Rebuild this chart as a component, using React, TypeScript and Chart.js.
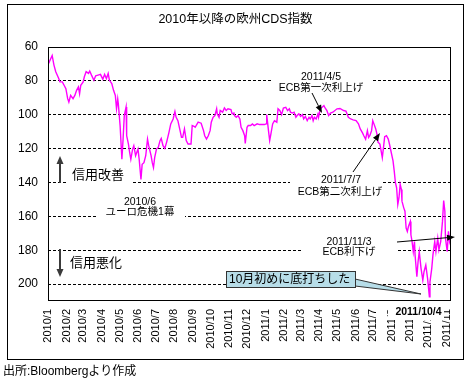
import React, { useEffect, useRef } from 'react';
import { Chart, registerables } from 'chart.js';

Chart.register(...registerables);

const chartTitle = '2010年以降の欧州CDS指数';
const sourceNote = '出所:Bloombergより作成';

const monthLabels = [
  '2010/1', '2010/2', '2010/3', '2010/4', '2010/5', '2010/6', '2010/7', '2010/8',
  '2010/9', '2010/10', '2010/11', '2010/12', '2011/1', '2011/2', '2011/3', '2011/4',
  '2011/5', '2011/6', '2011/7', '2011/8', '2011/9', '2011/10', '2011/11',
];

// days since 2010/1/1
const cdsDays = [
  1, 7, 10, 13, 18, 20, 24, 27, 30, 33, 35, 38, 42, 45, 48, 51, 53, 55, 59, 61, 64, 68, 70, 73, 77, 80,
  84, 88, 92, 95, 98, 101, 103, 105, 107, 110, 113, 115, 117, 118, 121, 124, 126, 128, 131, 132, 135,
  137, 139, 142, 144, 147, 151, 153, 156, 158, 161, 164, 167, 169, 173, 175, 177, 179, 182, 185, 188,
  190, 193, 196, 199, 203, 206, 210, 213, 215, 218, 221, 224, 226, 229, 232, 235, 240, 242, 245,
  247, 252, 257, 261, 263, 266, 269, 272, 274, 277, 280, 283, 284, 287, 289, 293, 296, 299, 302, 307,
  309, 312, 313, 316, 319, 322, 324, 327, 330, 331, 334, 336, 340, 343, 346, 351, 355, 359, 363, 366,
  367, 370, 372, 374, 377, 380, 384, 386, 389, 392, 395, 399, 402, 405, 407, 410, 413, 416, 418, 421,
  424, 427, 429, 432, 435, 438, 440, 443, 445, 447, 450, 453, 454, 457, 460, 463, 465, 468, 471, 474,
  478, 485, 490, 496, 500, 504, 508, 512, 517, 521, 524, 528, 530, 533, 536, 538, 540, 543, 545, 547,
  550, 552, 554, 557, 559, 561, 563, 565, 568, 571, 573, 576, 579, 581, 583, 585, 587, 589, 591, 593,
  594, 597, 599, 601, 603, 605, 608, 609, 611, 613, 615, 616, 619, 621, 623, 626, 629, 631, 634, 637,
  640, 641, 644, 646, 649, 651, 654, 656, 659, 662, 664, 666, 667, 670, 672, 674, 676,
];

const cdsValues = [
  69.7, 65, 70.7, 74.6, 78.6, 80.6, 80.6, 82.6, 84.6, 90.5, 92.5, 88.6, 90.5, 88.6, 85.6, 83.6, 87.6, 82.6,
  80.6, 77.6, 74.6, 75.6, 74.2, 76.6, 79.6, 77, 76.6, 76.2, 79, 76.2, 78.6, 75.6, 79.6, 80.6, 81.6, 85.6,
  88.6, 96.5, 90.6, 93.5, 106.4, 126.3, 114.4, 100.5, 95.5, 112.4, 117.3, 122.3, 126.3, 120.3, 118.3,
  124.2, 120.3, 126.3, 138.2, 129.3, 128.3, 124.2, 114.4, 118.3, 124.2, 128.3, 131.2, 125.3, 120.3, 119.3,
  115.3, 114, 118.3, 119.9, 116.3, 110.4, 105.4, 102.5, 98.1, 101.5, 103.5, 108.4, 113.4, 113.4, 108.4,
  115.3, 117.3, 117.3, 106.4, 106.8,
  107.4, 104.4, 105, 109.4, 112.4, 114.4, 112.4, 109.4, 104.4, 101.5, 100.5, 96.5, 99.5, 101.5, 97.5, 98.5,
  96, 97.5, 96.5, 97, 99.5, 99, 100.5, 101.5, 100.5, 102.5, 107.4, 109.4, 112.4, 117, 107.4, 106.4, 106.4,
  105.4, 106.4, 105.4, 105.8, 105.8, 105.8, 105.4, 99.9, 109.4, 115.3, 111.4, 105.4, 103.5, 104.4, 96.5,
  97.5, 99.9, 96, 95.6, 97.5, 96.5, 98.5, 99, 98.5, 101.5, 100.5, 99.5, 101, 99.9, 102.5, 101, 103.5, 101.5,
  102.5, 100.5, 103.5, 101.5, 102.5, 99.5, 101.5, 96.5, 95.6, 94.6, 96, 97.5, 100.5, 99,
  98.5, 96.5, 96.3, 97.5, 97.9, 101.5, 102.5, 103, 103.5, 105.4, 108.4, 110.9, 112.4, 114.4, 109.4, 113.4,
  112.4, 109.4, 103.5, 105.4, 108.4, 111.4, 116.3, 117.3, 121.3, 125.3, 119.3, 113, 112.4, 114.4, 117.3,
  122.3, 127.3, 133.2, 140.1, 143.1, 153, 149, 141.1, 144.1, 151, 155, 157, 166.9, 168.9, 165.9, 163,
  170.9, 174.9, 180.8, 174.9, 182.8, 195.7, 186.8, 180.8, 190.7, 197.7, 192.7, 188.8, 196.7, 207.5, 198.7,
  190.7, 182.8, 174.9, 180.8, 172.9, 179.8, 174.9, 163, 150.7, 157, 172.9, 180.8, 168.9, 174.9, 172,
];

const Y_MIN = 60;
const Y_MAX = 210;
const Y_STEP = 20;
const X_MAX_DAY = 677;

const FONT = '"Liberation Sans", "Noto Sans CJK JP", sans-serif';

function monthStartDays(): number[] {
  const base = Date.UTC(2010, 0, 1);
  return monthLabels.map((_, m) => Math.round((Date.UTC(2010, m, 1) - base) / 86400000));
}

function drawArrow(ctx: CanvasRenderingContext2D, x1: number, y1: number, x2: number, y2: number,
  head: number, width: number, color: string, lw: number) {
  const ang = Math.atan2(y2 - y1, x2 - x1);
  const bx = x2 - head * Math.cos(ang);
  const by = y2 - head * Math.sin(ang);
  ctx.save();
  ctx.strokeStyle = color;
  ctx.lineWidth = lw;
  ctx.beginPath();
  ctx.moveTo(x1, y1);
  ctx.lineTo(bx, by);
  ctx.stroke();
  ctx.fillStyle = color;
  ctx.beginPath();
  ctx.moveTo(x2, y2);
  ctx.lineTo(bx + (width / 2) * Math.sin(ang), by - (width / 2) * Math.cos(ang));
  ctx.lineTo(bx - (width / 2) * Math.sin(ang), by + (width / 2) * Math.cos(ang));
  ctx.closePath();
  ctx.fill();
  ctx.restore();
}

function text(ctx: CanvasRenderingContext2D, s: string, x: number, y: number, size: number,
  align: CanvasTextAlign = 'center', bold = false) {
  ctx.save();
  ctx.font = `${bold ? 'bold ' : ''}${size}px ${FONT}`;
  ctx.fillStyle = '#000';
  ctx.textAlign = align;
  ctx.textBaseline = 'middle';
  ctx.fillText(s, x, y);
  ctx.restore();
}

function whiteRect(ctx: CanvasRenderingContext2D, x: number, y: number, w: number, h: number) {
  ctx.save();
  ctx.fillStyle = '#fff';
  ctx.fillRect(x, y, w, h);
  ctx.restore();
}

const annotationPlugin = {
  id: 'annotations',
  beforeDatasetsDraw(chart: any) {
    const ctx: CanvasRenderingContext2D = chart.ctx;
    // white text boxes that cut the grid lines
    whiteRect(ctx, 273, 70, 99, 26);
    whiteRect(ctx, 290, 172, 92, 28);
    whiteRect(ctx, 97, 195, 88, 27);
    whiteRect(ctx, 67, 165, 64, 23);
    whiteRect(ctx, 302, 235, 95, 25);

    text(ctx, '2011/4/5', 321, 77, 10.5);
    text(ctx, 'ECB第一次利上げ', 321, 88, 10.5);
    text(ctx, '2011/7/7', 341, 180, 10.5);
    text(ctx, 'ECB第二次利上げ', 340, 192.5, 10.5);
    text(ctx, '2010/6', 140, 202, 10.5);
    text(ctx, 'ユーロ危機1幕', 140, 212.5, 10.5);
    text(ctx, '2011/11/3', 349, 242, 10.5);
    text(ctx, 'ECB利下げ', 349, 252.5, 10.5);
    text(ctx, '信用改善', 72, 175, 13, 'left');
    text(ctx, '信用悪化', 70, 263, 13, 'left');

    // big vertical arrows
    drawArrow(ctx, 60, 183, 60, 156, 8, 7, '#3a3a3a', 2);
    drawArrow(ctx, 60, 249, 60, 277, 8, 7, '#3a3a3a', 2);

    // callout
    ctx.save();
    ctx.fillStyle = '#b7dde8';
    ctx.strokeStyle = '#333';
    ctx.lineWidth = 1;
    ctx.beginPath();
    ctx.moveTo(355, 279);
    ctx.lineTo(421, 294);
    ctx.lineTo(355, 286);
    ctx.closePath();
    ctx.fill();
    ctx.stroke();
    ctx.fillRect(226.5, 271.5, 129, 16);
    ctx.strokeRect(226.5, 271.5, 129, 16);
    ctx.restore();
    text(ctx, '10月初めに底打ちした', 229, 279.5, 12, 'left');
  },
  afterDatasetsDraw(chart: any) {
    const ctx: CanvasRenderingContext2D = chart.ctx;
    drawArrow(ctx, 312, 93, 322, 113, 8, 6, '#000', 1);
    drawArrow(ctx, 353, 172, 380, 133, 8, 6, '#000', 1);
    drawArrow(ctx, 397, 242, 455, 237, 8, 6, '#000', 1);
    const a = chart.chartArea;
    ctx.save();
    ctx.strokeStyle = '#000';
    ctx.lineWidth = 1;
    ctx.strokeRect(Math.round(a.left) + 0.5, Math.round(a.top) + 0.5,
      Math.round(a.right - a.left) - 1, Math.round(a.bottom - a.top) - 1);
    ctx.restore();
  },
  afterDraw(chart: any) {
    const ctx: CanvasRenderingContext2D = chart.ctx;
    whiteRect(ctx, 388, 303, 56, 17);
    text(ctx, '2011/10/4', 418.5, 312, 10.5, 'center', true);
    text(ctx, chartTitle, 235.5, 20, 12.5);
    text(ctx, sourceNote, 3, 372, 12, 'left');
    ctx.save();
    ctx.strokeStyle = '#000';
    ctx.lineWidth = 1;
    ctx.strokeRect(7.5, 4.5, 456, 355);
    ctx.restore();
  },
};

export default function App() {
  const ref = useRef<HTMLCanvasElement | null>(null);

  useEffect(() => {
    document.body.style.margin = '0';
    const canvas = ref.current;
    if (!canvas) return;
    const starts = monthStartDays();
    const chart = new Chart(canvas, {
      type: 'line',
      data: {
        datasets: [
          {
            label: 'CDS',
            data: cdsDays.map((d, i) => ({ x: d, y: cdsValues[i] })),
            borderColor: '#ff00ff',
            borderWidth: 1.4,
            pointRadius: 0,
            tension: 0,
            fill: false,
          },
        ],
      },
      options: {
        animation: false,
        responsive: false,
        devicePixelRatio: 1,
        layout: { padding: { top: 47, left: 0, right: 12, bottom: 0 } },
        plugins: { legend: { display: false }, tooltip: { enabled: false }, title: { display: false } },
        scales: {
          x: {
            type: 'linear',
            min: 0,
            max: X_MAX_DAY,
            afterBuildTicks: (s: any) => {
              s.ticks = starts.map((v) => ({ value: v }));
            },
            afterFit: (s: any) => {
              s.height = 83;
            },
            grid: { display: false, drawTicks: false },
            border: { display: false },
            ticks: {
              autoSkip: false,
              minRotation: 90,
              maxRotation: 90,
              padding: 8,
              color: '#000',
              font: { family: FONT, size: 11 },
              callback: (_v: any, i: number) => monthLabels[i],
            },
          },
          y: {
            type: 'linear',
            reverse: true,
            min: Y_MIN,
            max: Y_MAX,
            afterFit: (s: any) => {
              s.width = 48;
            },
            grid: {
              drawTicks: false,
              lineWidth: 1,
              color: (c: any) =>
                c.tick && (c.tick.value === Y_MIN || c.tick.value === Y_MAX) ? 'rgba(0,0,0,0)' : '#000',
            },
            border: { display: false, dash: [3, 2] },
            ticks: {
              stepSize: Y_STEP,
              padding: 10,
              color: '#000',
              font: { family: FONT, size: 12 },
              callback: (v: any) => (v === Y_MAX ? '' : String(v)),
            },
          },
        },
      },
      plugins: [annotationPlugin],
    });
    return () => chart.destroy();
  }, []);

  return (
    <div style={{ width: 468, height: 384, background: '#fff' }}>
      <canvas ref={ref} width={468} height={384} style={{ display: 'block' }} />
    </div>
  );
}
